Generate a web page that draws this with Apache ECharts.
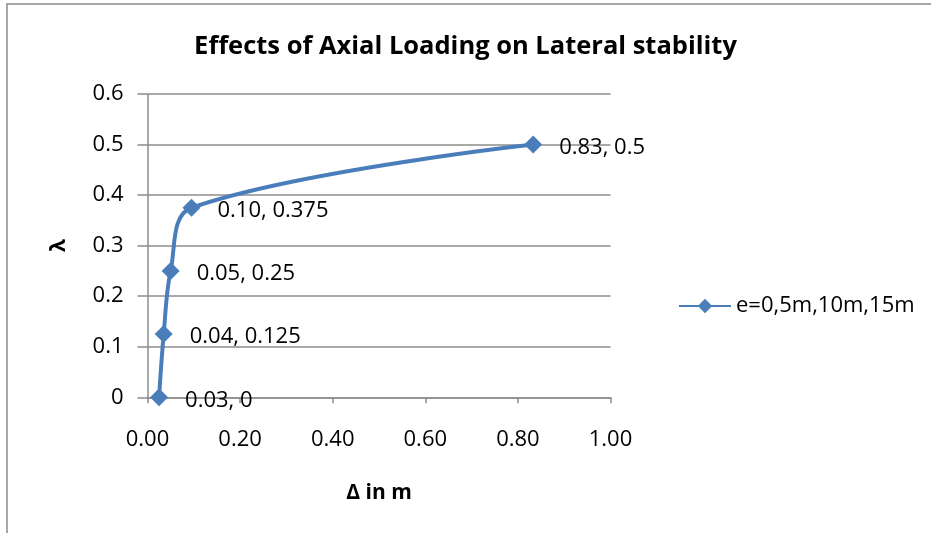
<!DOCTYPE html>
<html><head><meta charset="utf-8">
<script src="https://cdn.jsdelivr.net/npm/echarts@6/dist/echarts.min.js"></script>
<style>html,body{margin:0;padding:0;background:#fff}#c{width:931px;height:533px}</style>
</head><body><div id="c"></div>
<script>
const titleText = "Effects of Axial Loading on Lateral stability";
const seriesName = "e=0,5m,10m,15m";
const deltaValues = [0.025, 0.035, 0.05, 0.095, 0.833];
const lambdaValues = [0, 0.125, 0.25, 0.375, 0.5];
const xTicks = [0, 0.2, 0.4, 0.6, 0.8, 1.0];
const yTicks = [0, 0.1, 0.2, 0.3, 0.4, 0.5, 0.6];

const font = "'Open Sans', 'Liberation Sans', sans-serif";
const data = deltaValues.map((x, i) => [x, lambdaValues[i]]);
const chart = echarts.init(document.getElementById('c'));
chart.setOption({
  animation: false,
  backgroundColor: '#fff',
  graphic: [{type:'rect', shape:{x:7, y:4, width:1000, height:600}, style:{fill:'none', stroke:'#8a8a8a', lineWidth:1.5}, silent:true}],
  title: {text: titleText, left: 'center', top: 29, textStyle: {fontFamily: font, fontWeight: 'bold', fontSize: 25.5, color: '#000'}},
  grid: {left: 147.5, right: 320.5, top: 94, bottom: 135.7},
  legend: {data: [seriesName], left: 673, top: 290, itemWidth: 52, itemHeight: 18, itemGap: 6,
    textStyle: {fontFamily: font, fontSize: 22, color: '#000'}},
  xAxis: {type: 'value', min: xTicks[0], max: xTicks[xTicks.length-1], interval: 0.2,
    name: 'Δ in m', nameLocation: 'middle', nameGap: 85,
    nameTextStyle: {fontFamily: font, fontWeight: 'bold', fontSize: 21, color: '#000'},
    axisLine: {show: true, lineStyle: {color: '#8c8c8c', width: 1.5}},
    axisTick: {show: true, length: 6, lineStyle: {color: '#8c8c8c', width: 1.5}},
    splitLine: {show: false},
    axisLabel: {fontFamily: font, fontSize: 22, color: '#000', margin: 31, formatter: v => v.toFixed(2)}},
  yAxis: {type: 'value', min: yTicks[0], max: yTicks[yTicks.length-1], interval: 0.1,
    name: 'λ', nameLocation: 'middle', nameGap: 78, nameRotate: 90,
    nameTextStyle: {fontFamily: font, fontWeight: 'bold', fontSize: 21, color: '#000'},
    axisLine: {show: true, lineStyle: {color: '#8c8c8c', width: 1.5}},
    axisTick: {show: true, length: 10, lineStyle: {color: '#8c8c8c', width: 1.5}},
    splitLine: {show: true, lineStyle: {color: '#8c8c8c', width: 1.5}},
    axisLabel: {fontFamily: font, fontSize: 22, color: '#000', margin: 24, formatter: v => String(Math.round(v*10)/10)}},
  series: [{
    name: seriesName, type: 'line', data: data, smooth: 0.35,
    symbol: 'diamond', symbolSize: 18,
    lineStyle: {color: '#4a7ebb', width: 4},
    itemStyle: {color: '#4a7ebb'},
    label: {show: true, position: 'right', distance: 17, offset: [0, 3], fontFamily: font, fontSize: 22, color: '#000',
      formatter: p => (Math.round(p.value[0]*100+1e-6)/100).toFixed(2) + ', ' + p.value[1]}
  }]
});
</script></body></html>
